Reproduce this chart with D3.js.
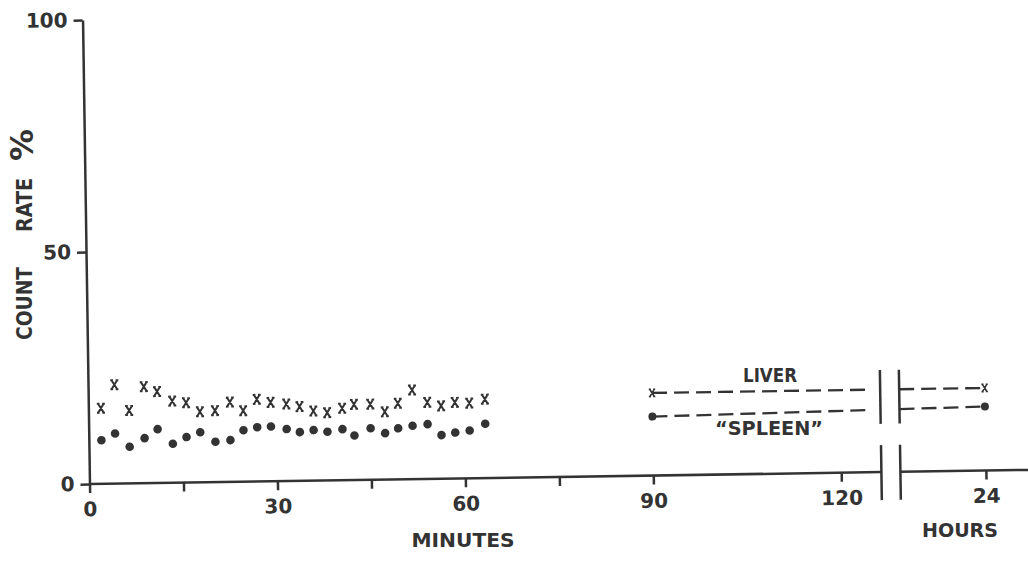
<!DOCTYPE html>
<html>
<head>
<meta charset="utf-8">
<script src="https://cdn.jsdelivr.net/npm/d3@7"></script>
<style>
  body { margin: 0; background: #fff; }
  text { font-family: "DejaVu Sans", sans-serif; font-weight: bold; fill: #333; }
  .axis path, .axis line { stroke: #333; stroke-width: 2.5; }
</style>
</head>
<body>
<div id="my-chart"></div>
<script>
var width = 1028;
var height = 561;
var ink = "#333";

// early readings, minutes after injection
var minutes = [2.0, 4.2, 6.5, 8.9, 11.0, 13.4, 15.6, 17.8, 20.2, 22.6, 24.7, 26.9, 29.1, 31.6,
               33.7, 35.9, 38.1, 40.5, 42.4, 45.0, 47.3, 49.4, 51.7, 54.1, 56.3, 58.5, 60.8, 63.3];
var liver  = [16.3, 21.3, 15.7, 20.8, 19.7, 17.6, 17.2, 15.2, 15.4, 17.2, 15.3, 17.7, 17.0, 16.6,
              16.0, 15.0, 14.6, 15.5, 16.3, 16.3, 14.6, 16.4, 19.2, 16.5, 15.7, 16.4, 16.2, 17.0];
var spleen = [9.4, 10.8, 7.9, 9.7, 11.6, 8.4, 9.8, 10.8, 8.7, 9.0, 11.1, 11.7, 11.8, 11.2,
              10.5, 10.9, 10.5, 11.0, 9.6, 11.1, 10.0, 11.0, 11.5, 11.8, 9.4, 9.9, 10.3, 11.7];

// late readings: at 90 minutes and at 24 hours
var liverLate  = [17.8, 17.8];
var spleenLate = [12.7, 13.8];

var minuteTicks = [0, 15, 30, 45, 60, 75, 90, 120];
var minuteLabels = [0, 30, 60, 90, 120];
var hourTicks = [24];
var yTicks = [0, 50, 100];

var svg = d3.select("div#my-chart").append("svg")
  .attr("width", width)
  .attr("height", height);

// the original figure sits slightly tilted on the page
var g = svg.append("g")
  .attr("transform", "translate(89.5,484) rotate(-0.86)");

var x = d3.scaleLinear().domain([0, 120]).range([0, 751.8]);
var xh = d3.scaleLinear().domain([21.5, 25.2]).range([810, 938]);
var y = d3.scaleLinear().domain([0, 100]).range([0, -464]);

var break1 = 792, break2 = 811, gapStart = 781, axisEnd = 950;

// x axis (minutes)
var xAxis = d3.axisBottom(x)
  .tickValues(minuteTicks)
  .tickSize(9)
  .tickPadding(9)
  .tickFormat(function (d) { return minuteLabels.indexOf(d) >= 0 ? d : ""; });
g.append("g").attr("class", "axis").call(xAxis)
  .call(function (s) { s.select(".domain").remove(); })
  .selectAll("text").style("font-size", "20px").attr("fill", ink);

// x axis (hours)
var hAxis = d3.axisBottom(xh).tickValues(hourTicks).tickSize(9).tickPadding(9)
  .tickFormat(d3.format("d"));
g.append("g").attr("class", "axis").call(hAxis)
  .call(function (s) { s.select(".domain").remove(); })
  .selectAll("text").style("font-size", "20px").attr("fill", ink);

g.append("line").attr("x1", 0).attr("x2", break1).attr("y1", 0).attr("y2", 0)
  .attr("stroke", ink).attr("stroke-width", 2.5);
g.append("line").attr("x1", break2).attr("x2", axisEnd).attr("y1", 0).attr("y2", 0)
  .attr("stroke", ink).attr("stroke-width", 2.5);

// y axis
var yAxis = d3.axisLeft(y).tickValues(yTicks).tickSize(9).tickPadding(6).tickSizeOuter(0);
g.append("g").attr("class", "axis").call(yAxis)
  .selectAll("text").style("font-size", "20px").attr("fill", ink);

// axis break marks
[break1, break2].forEach(function (bx) {
  g.append("line").attr("x1", bx).attr("x2", bx).attr("y1", y(22.0)).attr("y2", y(10.4))
    .attr("stroke", ink).attr("stroke-width", 2.5);
  g.append("line").attr("x1", bx).attr("x2", bx).attr("y1", -27).attr("y2", 28)
    .attr("stroke", ink).attr("stroke-width", 2.5);
});

// markers: typewriter style x
var crossPath = "M-2.8,-4.5L2.8,4.5M2.8,-4.5L-2.8,4.5" +
                "M-4,-4.5H-1.3M1.3,-4.5H4M-4,4.5H-1.3M1.3,4.5H4";

g.selectAll(".liver").data(minutes).enter().append("path")
  .attr("class", "liver")
  .attr("d", crossPath)
  .attr("transform", function (d, i) { return "translate(" + x(d) + "," + y(liver[i]) + ")"; })
  .attr("fill", "none").attr("stroke", ink).attr("stroke-width", 2);

g.selectAll(".spleen").data(minutes).enter().append("circle")
  .attr("class", "spleen")
  .attr("cx", function (d) { return x(d); })
  .attr("cy", function (d, i) { return y(spleen[i]); })
  .attr("r", 4.3)
  .attr("fill", ink);

// dashed lines from 90 minutes to 24 hours, interrupted by the break
function lateLine(vals) {
  var x0 = x(90), y0 = y(vals[0]), x1 = xh(24), y1 = y(vals[1]);
  var at = function (u) { return y0 + (y1 - y0) * (u - x0) / (x1 - x0); };
  [[x0, gapStart], [break2, x1]].forEach(function (seg) {
    g.append("line")
      .attr("x1", seg[0]).attr("y1", at(seg[0]))
      .attr("x2", seg[1]).attr("y2", at(seg[1]))
      .attr("stroke", ink).attr("stroke-width", 2.3)
      .attr("stroke-dasharray", "15,7");
  });
}
lateLine(liverLate);
lateLine(spleenLate);

g.selectAll(".liverLate").data([x(90), xh(24)]).enter().append("path")
  .attr("d", crossPath)
  .attr("transform", function (d, i) { return "translate(" + d + "," + y(liverLate[i]) + ") scale(0.8)"; })
  .attr("fill", "none").attr("stroke", ink).attr("stroke-width", 2);

g.selectAll(".spleenLate").data([x(90), xh(24)]).enter().append("circle")
  .attr("cx", function (d) { return d; })
  .attr("cy", function (d, i) { return y(spleenLate[i]); })
  .attr("r", 4)
  .attr("fill", ink);

// labels
function label(txt, px, py, len, size, rot) {
  var t = svg.append("text")
    .attr("text-anchor", "middle")
    .style("font-size", (size || 20) + "px")
    .text(txt);
  if (rot) {
    t.attr("transform", "translate(" + px + "," + py + ") rotate(-90)");
  } else {
    t.attr("x", px).attr("y", py);
  }
  if (len) t.attr("textLength", len).attr("lengthAdjust", "spacingAndGlyphs");
  return t;
}
label("LIVER", 770, 382, 54);
label("\u201CSPLEEN\u201D", 769, 435, 108);
label("MINUTES", 463, 547, 103);
label("HOURS", 960, 537, 76);
label("COUNT", 32, 303.5, 73, 21, true);
label("RATE", 32, 205, 54, 21, true);
label("%", 33, 145, null, 32, true);
</script>
</body>
</html>
